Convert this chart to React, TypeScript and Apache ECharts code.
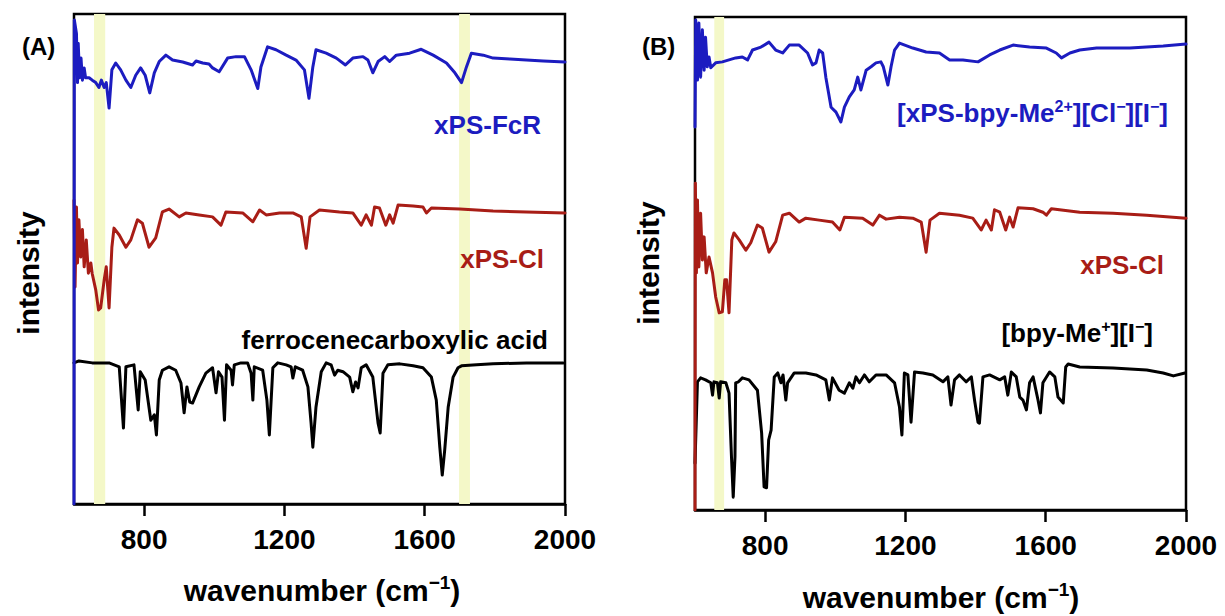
import React, { useEffect, useRef } from "react";
import * as echarts from "echarts";

// ---- data: [wavenumber (cm-1), intensity (a.u., offset stacked)] ----
const tickValues = [800, 1200, 1600, 2000];

const bandsA = [[657, 689], [1698, 1729]];
const bandsB = [[655, 683]];

const blueA = [[600,0],[601,98.8],[607,96],[610,86],[612,94],[616,87],[620,91],[624,86.5],[629,89],[633,87],[643,87],[652,86.5],[662,86],[671,85],[678,86.5],[686,85],[692,86],[700,80.8],[708,88.6],[719,90],[733,88.6],[748,86.5],[762,85],[776,87.5],[790,89],[803,87.5],[816,83.9],[829,88],[843,90.3],[862,91.6],[881,90.6],[910,90.2],[938,89.6],[948,90.4],[967,90],[985,89.8],[995,89],[1014,88.2],[1038,91],[1062,91.3],[1086,91.3],[1105,88.6],[1124,84.8],[1133,89.2],[1152,93.3],[1176,92.7],[1205,91.6],[1233,90.6],[1257,88.6],[1270,82.8],[1281,89.2],[1290,92.7],[1319,92],[1348,91],[1374,89.6],[1395,91],[1424,91.3],[1438,90.6],[1452,88],[1467,90.3],[1486,91.3],[1500,90.3],[1519,91.6],[1557,92],[1590,92.8],[1624,91.6],[1662,90],[1686,88],[1705,86],[1719,89.2],[1733,92],[1767,91.6],[1795,91],[1843,90.8],[1890,90.6],[1938,90.4],[2000,90.2]];

const redA = [[600,62],[603,44.3],[607,60.6],[610,49.2],[614,58],[619,50.4],[624,56],[629,48.4],[635,53.9],[641,47.1],[648,49.2],[652,47],[662,43.7],[670,39.6],[676,40],[686,45.7],[692,48.4],[700,40],[708,52.4],[714,56.3],[729,54.9],[748,52.4],[762,53.9],[781,58],[795,57.3],[814,52.4],[833,54.3],[852,59.6],[871,60.2],[900,58.6],[919,59.4],[957,59],[995,58.6],[1019,56.9],[1033,59.6],[1081,59.4],[1110,57.6],[1129,60],[1148,59],[1186,59.4],[1224,59.4],[1248,58.6],[1262,52.2],[1273,58.6],[1300,60],[1357,59.6],[1395,59.4],[1419,56.9],[1433,59],[1448,56.9],[1457,60.6],[1471,60.4],[1489,56.9],[1500,59],[1510,57.3],[1524,61],[1567,60.8],[1595,60.6],[1605,59.4],[1619,60.4],[1700,60.2],[1795,59.8],[1890,59.6],[2000,59.4]];

const blackA = [[600,28.8],[614,29.2],[652,28.8],[700,28.8],[729,28],[741,15.5],[748,28],[771,28.4],[783,19.2],[789,27],[803,25.3],[819,17.1],[829,18.2],[835,14.1],[843,25.3],[852,27.3],[871,28],[890,27.3],[905,24.7],[914,18.6],[922,23.9],[930,20.8],[938,20.6],[957,23.9],[976,26.7],[995,27.8],[1005,22.7],[1012,27],[1022,25.9],[1029,17.1],[1035,28.4],[1048,27.3],[1052,24.3],[1057,28.4],[1076,28.8],[1095,28.8],[1105,26.7],[1110,21.2],[1114,28],[1138,27.3],[1150,21.2],[1157,14.1],[1167,27.8],[1181,28.8],[1205,28.4],[1219,28],[1224,25.7],[1231,28],[1252,27.3],[1267,23.9],[1276,16.5],[1281,11.6],[1290,19.8],[1305,27],[1319,28.8],[1333,28.4],[1343,26.3],[1352,27.3],[1367,27],[1386,25.9],[1395,22.9],[1403,24.9],[1410,23.7],[1419,27.8],[1433,28.4],[1452,25.9],[1467,16.5],[1473,14.5],[1481,26.7],[1495,28.4],[1529,28.6],[1567,28.2],[1595,27.8],[1619,25.9],[1633,21.2],[1643,11.6],[1650,5.9],[1657,11],[1667,19.8],[1681,25.9],[1695,27.8],[1705,28.2],[1748,28.4],[1795,28.6],[1890,28.8],[1995,28.8]];

const blueB = [[600,77.7],[602,99.4],[607,87.2],[611,98.8],[616,87.8],[621,97.4],[626,89.2],[630,95.9],[635,89.9],[640,91.9],[645,89.7],[659,90.7],[678,90.9],[697,91.3],[716,91.7],[735,91.9],[750,91.3],[764,93.3],[788,93.9],[811,94.9],[830,93.3],[850,92.7],[869,94.3],[897,94.3],[921,92.7],[935,90.3],[945,90.7],[954,93.3],[964,92.7],[973,87.8],[988,81.7],[1002,80.7],[1016,78.7],[1026,81.7],[1040,83.8],[1054,85.2],[1064,87.8],[1073,85.2],[1088,89.2],[1102,89.9],[1116,90.7],[1130,90.9],[1137,89.9],[1150,86.2],[1159,89.9],[1169,93.3],[1183,94.7],[1221,93.7],[1259,92.9],[1297,92.7],[1326,91.3],[1364,91.3],[1407,90.9],[1440,92.3],[1469,93.3],[1507,94.3],[1554,93.9],[1602,93.7],[1630,92.7],[1645,91.7],[1669,92.7],[1697,93.3],[1745,93.7],[1840,93.7],[1935,94.1],[2000,94.5]];

const redB = [[600,0],[601,66.3],[604,48.1],[607,62.9],[611,49.3],[616,60.2],[621,50.7],[626,55.4],[632,48.1],[640,51.3],[650,48.1],[659,43.2],[669,40],[678,40.2],[685,46.7],[690,46.7],[697,40],[705,54.8],[711,56.2],[726,54.8],[745,52.7],[759,54.2],[778,57.8],[792,57.2],[811,52.3],[830,54.4],[850,59.8],[869,60.2],[897,58.4],[916,59.2],[954,58.8],[992,58.4],[1013,56.8],[1026,59.4],[1078,59.2],[1107,57.8],[1126,59.8],[1145,59],[1183,59.4],[1221,59.2],[1245,58.4],[1259,52.3],[1270,58.8],[1297,60.2],[1354,59.8],[1392,59.2],[1416,56.8],[1430,58.8],[1445,56.8],[1454,60.9],[1469,60.4],[1486,56.8],[1497,59.4],[1507,57.4],[1521,61.3],[1564,61.1],[1592,60.4],[1602,59.8],[1616,61.1],[1697,60.4],[1792,60.2],[1888,59.8],[2000,59.2]];

const blackB = [[600,9.5],[607,26],[616,26.8],[630,26.4],[645,25.8],[650,23.3],[654,26],[664,25.8],[669,22.7],[673,26],[688,25.8],[697,23.7],[704,10.8],[709,2.6],[714,10.8],[716,25.8],[724,26],[735,26.8],[754,26.4],[778,24.3],[790,15.6],[797,4.7],[804,4.5],[810,14.2],[817,16.2],[826,27],[836,27.8],[845,25.8],[851,27.4],[859,22.3],[864,25.8],[883,27.8],[916,27.8],[945,27.4],[973,26.4],[983,22.3],[992,26.8],[1011,24.3],[1026,23.7],[1040,25.8],[1050,24.7],[1059,27],[1069,25.8],[1083,27.4],[1097,26],[1116,27.4],[1145,27.4],[1169,25.8],[1183,20.9],[1190,15.2],[1197,27.8],[1207,27.4],[1216,17.8],[1226,28],[1250,27.8],[1278,27.4],[1307,26],[1321,27],[1330,21.3],[1340,26.4],[1354,27.4],[1373,26],[1388,27],[1397,22.3],[1407,17.8],[1411,17.6],[1421,27],[1440,27.4],[1469,26.4],[1483,27],[1492,23.3],[1502,28],[1516,27],[1526,22.9],[1535,22.3],[1545,20.3],[1554,25.8],[1564,27],[1578,22.3],[1585,19.7],[1592,25.8],[1611,28],[1626,27],[1635,22.9],[1650,21.7],[1657,29],[1664,29.6],[1697,29],[1792,28.8],[1888,28.4],[1935,27.8],[1964,27.2],[1997,27.8]];

const FONT = '"Liberation Sans", Arial, Helvetica, sans-serif';
const BLUE = "#1c1cc0";
const RED = "#a81d16";
const BLACK = "#000000";
const BAND = "#f4f8c8";

function xAxisCfg(gridIndex: number) {
  return {
    type: "value",
    gridIndex,
    min: 600,
    max: 2000,
    axisLine: { show: true, onZero: false, lineStyle: { color: "#000", width: 2.5 } },
    axisTick: { show: true, customValues: tickValues, length: 12, inside: false, lineStyle: { color: "#000", width: 2.5 } },
    axisLabel: {
      show: true,
      customValues: tickValues,
      formatter: (v: number) => String(v),
      margin: 21,
      fontSize: 28,
      fontWeight: "bold",
      color: "#000",
      fontFamily: FONT,
    },
    splitLine: { show: false },
  };
}
function yAxisCfg(gridIndex: number) {
  return {
    type: "value",
    gridIndex,
    min: 0,
    max: 100,
    axisLine: { show: false },
    axisTick: { show: false },
    axisLabel: { show: false },
    splitLine: { show: false },
  };
}
function line(name: string, data: number[][], color: string, idx: number) {
  return {
    name,
    type: "line",
    xAxisIndex: idx,
    yAxisIndex: idx,
    data,
    showSymbol: false,
    symbol: "none",
    z: 3,
    lineStyle: { color, width: 3, join: "round", cap: "round" },
  };
}
function bandSeries(bands: number[][], idx: number) {
  return {
    name: "band" + idx,
    type: "line",
    xAxisIndex: idx,
    yAxisIndex: idx,
    data: [],
    z: 1,
    silent: true,
    markArea: {
      silent: true,
      itemStyle: { color: BAND },
      data: bands.map((b) => [{ xAxis: b[0] }, { xAxis: b[1] }]),
    },
  };
}

const bold = (size: number, color: string) => ({ fontSize: size, fontWeight: "bold", fontFamily: FONT, fill: color });

function label(x: number, y: number, text: string, color: string, size: number, align = "right", rich?: any) {
  return {
    type: "text",
    x,
    y,
    z: 10,
    style: { text, ...bold(size, color), align, verticalAlign: "middle", rich },
  };
}

const richSup = (color: string, size: number) => ({
  n: { fontSize: size, fontWeight: "bold", fontFamily: FONT, color, lineHeight: size + 4 },
  s: { fontSize: Math.round(size * 0.62), fontWeight: "bold", fontFamily: FONT, color, verticalAlign: "top", lineHeight: size + 4, padding: [0, 0, 10, 0] },
});

export default function App() {
  const ref = useRef<HTMLDivElement>(null);
  useEffect(() => {
    if (!ref.current) return;
    const chart = echarts.init(ref.current, null, { renderer: "svg" });
    const option: any = {
      animation: false,
      backgroundColor: "#ffffff",
      grid: [
        { left: 74, top: 14, width: 491, height: 490, show: true, borderColor: "#000", borderWidth: 2.5, backgroundColor: "transparent" },
        { left: 695, top: 17, width: 491, height: 493, show: true, borderColor: "#000", borderWidth: 2.5, backgroundColor: "transparent" },
      ],
      xAxis: [xAxisCfg(0), xAxisCfg(1)],
      yAxis: [yAxisCfg(0), yAxisCfg(1)],
      series: [
        bandSeries(bandsA, 0),
        line("ferrocenecarboxylic acid", blackA, BLACK, 0),
        line("xPS-Cl (A)", redA, RED, 0),
        line("xPS-FcR", blueA, BLUE, 0),
        bandSeries(bandsB, 1),
        line("[bpy-Me+][I-]", blackB, BLACK, 1),
        line("xPS-Cl (B)", redB, RED, 1),
        line("[xPS-bpy-Me2+][Cl-][I-]", blueB, BLUE, 1),
      ],
      graphic: [
        label(22, 46, "(A)", "#000", 24, "left"),
        label(642, 46, "(B)", "#000", 24, "left"),
        { type: "text", x: 28, y: 273, rotation: Math.PI / 2, z: 10, style: { text: "intensity", ...bold(30, "#000"), align: "center", verticalAlign: "middle" } },
        { type: "text", x: 648, y: 263, rotation: Math.PI / 2, z: 10, style: { text: "intensity", ...bold(30, "#000"), align: "center", verticalAlign: "middle" } },
        label(541, 125, "xPS-FcR", BLUE, 26),
        label(544, 259, "xPS-Cl", RED, 26),
        label(548, 340, "ferrocenecarboxylic acid", "#000", 26),
        label(1168, 113, "{n|[xPS-bpy-Me}{s|2+}{n|][Cl}{s|−}{n|][I}{s|−}{n|]}", BLUE, 26, "right", richSup(BLUE, 26)),
        label(1164, 265, "xPS-Cl", RED, 26),
        label(1153, 333, "{n|[bpy-Me}{s|+}{n|][I}{s|−}{n|]}", "#000", 26, "right", richSup("#000", 26)),
        label(322, 590, "{n|wavenumber (cm}{s|−1}{n|)}", "#000", 30, "center", richSup("#000", 30)),
        label(941, 597, "{n|wavenumber (cm}{s|−1}{n|)}", "#000", 30, "center", richSup("#000", 30)),
      ],
    };
    chart.setOption(option);
    return () => chart.dispose();
  }, []);
  return <div ref={ref} style={{ position: "fixed", left: 0, top: 0, width: 1225, height: 616 }} />;
}
